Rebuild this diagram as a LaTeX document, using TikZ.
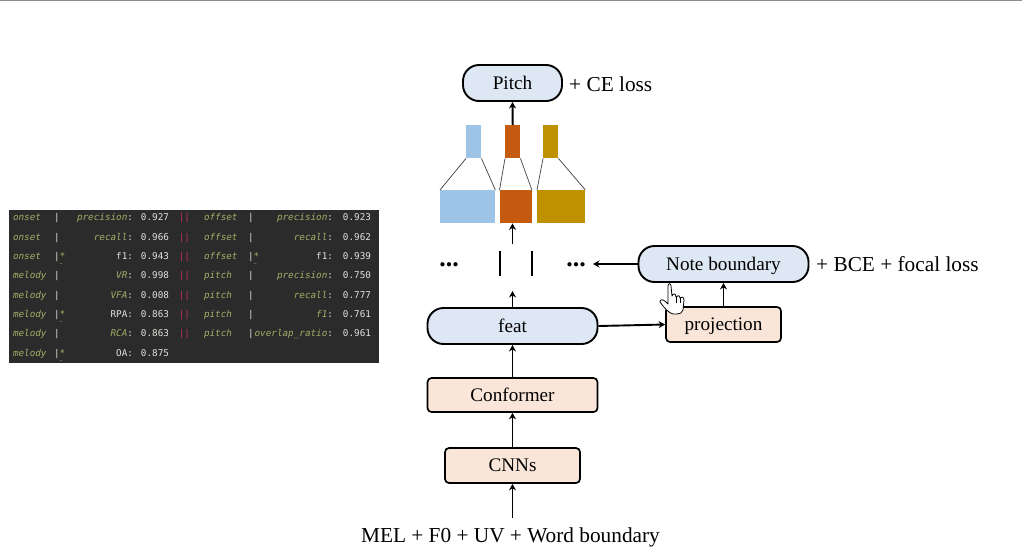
\documentclass[tikz,border=0pt]{standalone}
\usepackage{fontspec}
\usepackage{array}
\usepackage[table]{xcolor}
\usetikzlibrary{arrows.meta}
\setmainfont{Liberation Serif}
\newfontfamily\tblfont{DejaVu Sans Mono}
\definecolor{headfill}{HTML}{DEE8F4}
\definecolor{boxfill}{HTML}{FAE6D8}
\definecolor{barblue}{HTML}{9DC3E6}
\definecolor{barorange}{HTML}{C55A11}
\definecolor{bargold}{HTML}{BF9000}
\definecolor{tblbg}{HTML}{2B2B2B}
\definecolor{tblgreen}{HTML}{A0B068}
\definecolor{tblwhite}{HTML}{E2E2DE}
\definecolor{tblpink}{HTML}{C2305C}
\newcommand{\nm}[1]{\textcolor{tblgreen}{\itshape #1}}
\newcommand{\mt}[1]{\textcolor{tblgreen}{\itshape #1}:}
\newcommand{\mw}[1]{#1:}
\newcommand{\sep}{\textcolor{tblwhite}{|}}
\newcommand{\bst}{\sep\rlap{\textcolor{tblgreen}{*}}\rlap{\raisebox{-6pt}{\textcolor{tblgreen}{\fontsize{5}{5}\selectfont\textasciitilde}}}}
\newcommand{\dbl}{\textcolor{tblpink}{\itshape ||}}
\tikzset{
  x=1pt,y=-1pt,
  head/.style={draw,line width=1.9pt,rounded corners=16pt,fill=headfill,inner sep=0pt,text height=13pt,text depth=1pt,font=\fontsize{19.2}{21}\selectfont},
  block/.style={draw,line width=1.7pt,rounded corners=4pt,fill=boxfill,inner sep=0pt,text height=13pt,text depth=1pt,font=\fontsize{19.2}{21}\selectfont},
  lbl/.style={inner sep=0pt,font=\fontsize{21.3}{23}\selectfont},
  dotnode/.style={inner ysep=1pt,inner xsep=7pt,font=\fontsize{26}{26}\selectfont\bfseries},
  bar/.style={fill=#1,inner sep=0pt,anchor=north west},
  sidebar/.style={fill=black,inner sep=0pt,minimum width=2pt,minimum height=25pt},
  arr/.style={-{Stealth[length=6.5pt,width=7pt]},line width=1.9pt},
  fan/.style={line width=.7pt,draw=black!75}
}
\begin{document}
\begin{tikzpicture}
\useasboundingbox (0,0) rectangle (1022,555);
\fill[white] (0,0) rectangle (1022,555);
\draw[black!45,line width=1pt] (0,0) -- (1022,0);
% results panel
\node[fill=tblbg,inner sep=0pt,minimum width=370pt,minimum height=153pt] (tbl) at (194,286.5) {};
\node[inner sep=0pt] (tblbody) at (192,284.7) {%
\tblfont\fontsize{9.3}{19.3}\selectfont\color{tblwhite}%
\setlength{\tabcolsep}{0pt}%
\begin{tabular}{
>{\raggedright}p{41pt}
>{\raggedright}p{13pt}
>{\raggedleft}p{66pt}
>{\raggedleft}p{36pt}
>{\raggedleft}p{21pt}
>{\raggedright\hspace*{14pt}}p{58pt}
>{\raggedright}p{6pt}
>{\raggedleft}p{79pt}
>{\raggedleft\arraybackslash}p{38pt}}
\nm{onset} & \sep & \mt{precision} & 0.927 & \dbl & \nm{offset} & \sep & \mt{precision} & 0.923\\
\nm{onset} & \sep & \mt{recall} & 0.966 & \dbl & \nm{offset} & \sep & \mt{recall} & 0.962\\
\nm{onset} & \bst & \mw{f1} & 0.943 & \dbl & \nm{offset} & \bst & \mw{f1} & 0.939\\
\nm{melody} & \sep & \mt{VR} & 0.998 & \dbl & \nm{pitch} & \sep & \mt{precision} & 0.750\\
\nm{melody} & \sep & \mt{VFA} & 0.008 & \dbl & \nm{pitch} & \sep & \mt{recall} & 0.777\\
\nm{melody} & \bst & \mw{RPA} & 0.863 & \dbl & \nm{pitch} & \sep & \mt{f1} & 0.761\\
\nm{melody} & \sep & \mt{RCA} & 0.863 & \dbl & \nm{pitch} & \sep & \mt{overlap\_ratio} & 0.961\\
\nm{melody} & \bst & \mw{OA} & 0.875 & & & & & \\
\end{tabular}%
};
% main stack
\node[lbl] (input) at (510.5,537) {MEL + F0 + UV + Word boundary};
\node[block,minimum width=135pt,minimum height=35pt] (cnn) at (512.5,465.5) {CNNs};
\node[block,minimum width=170pt,minimum height=34pt] (conf) at (512.5,395) {Conformer};
\node[head,minimum width=170pt,minimum height=36pt] (feat) at (512.5,326) {feat};
\node[block,minimum width=115pt,minimum height=35pt] (proj) at (723.5,324.5) {projection};
\node[head,minimum width=170pt,minimum height=36pt] (note) at (723.5,264) {Note boundary};
\node[head,minimum width=99pt,minimum height=36pt] (pitch) at (512.5,83) {Pitch};
\node[lbl,anchor=west] (celoss) at (569,84) {+ CE loss};
\node[lbl,anchor=west] (bceloss) at (816,264) {+ BCE + focal loss};
% frames
\node[sidebar] (barl) at (500,263.5) {};
\node[sidebar] (barr) at (532,263.5) {};
\node[dotnode] (dotsl) at (449,264.5) {...};
\node[dotnode] (dotsr) at (576,264.5) {...};
\coordinate (frameup) at (512.5,244);
\coordinate (framedn) at (512.5,291);
\coordinate (inputtop) at (512.5,518);
% attention bars
\node[bar=barblue,minimum width=15pt,minimum height=33pt] (topa) at (466,125) {};
\node[bar=barorange,minimum width=15pt,minimum height=33pt] (topb) at (505,125) {};
\node[bar=bargold,minimum width=15pt,minimum height=33pt] (topc) at (543,125) {};
\node[bar=barblue,minimum width=55pt,minimum height=33pt] (lowa) at (440,190) {};
\node[bar=barorange,minimum width=32pt,minimum height=33pt] (lowb) at (499.5,190) {};
\node[bar=bargold,minimum width=48pt,minimum height=33pt] (lowc) at (537,190) {};
\foreach \n in {a,b,c}{
  \draw[fan] (top\n.south west) -- (low\n.north west);
  \draw[fan] (top\n.south east) -- (low\n.north east);
}
% connectors
\draw[arr] (inputtop) -- (cnn);
\draw[arr] (cnn) -- (conf);
\draw[arr] (conf) -- (feat);
\draw[arr] (feat) -- (framedn);
\draw[arr] (frameup) -- (frameup |- lowb.south);
\draw[arr] (topb.north) -- (pitch.south);
\draw[arr] (feat.east) -- (proj.west);
\draw[arr] (proj.north) -- (note.south);
\draw[arr] (note.west) -- (dotsr.east |- note.west);
% cursor
\draw[black,fill=white,line width=.8pt,line join=round]
  (668,286) .. controls (668,283) and (671,283) .. (671,286)
  -- (672,296) .. controls (673,293) and (676,293) .. (676,297)
  .. controls (677,295) and (680,295) .. (680,298)
  .. controls (681,296) and (684,297) .. (684,300)
  -- (683,310) .. controls (682,313) and (680,314) .. (677,314)
  -- (673,314) .. controls (669,313) and (665,309) .. (660,302)
  .. controls (660,299) and (663,299) .. (666,302)
  -- (668,304) -- cycle;
\draw[black,line width=.5pt] (676,297) -- (676,303) (680,298) -- (680,303);
\end{tikzpicture}
\end{document}
